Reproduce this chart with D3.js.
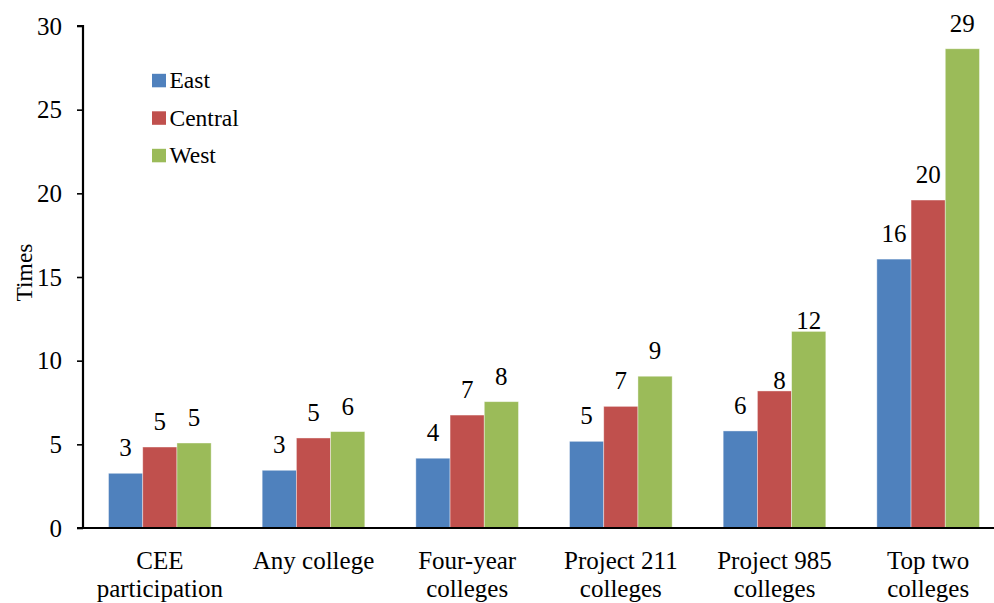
<!DOCTYPE html>
<html>
<head>
<meta charset="utf-8">
<script src="https://cdn.jsdelivr.net/npm/d3@7/dist/d3.min.js"></script>
<style>
  html, body { margin: 0; padding: 0; background: #fff; }
  svg { display: block; }
</style>
</head>
<body>
<svg id="chart" width="994" height="603"></svg>
<script>
// ---- data ----
const categories = [
  ["CEE", "participation"],
  ["Any college"],
  ["Four-year", "colleges"],
  ["Project 211", "colleges"],
  ["Project 985", "colleges"],
  ["Top two", "colleges"]
];
const seriesNames = ["East", "Central", "West"];
const eastValues    = [3.27, 3.45, 4.17, 5.18, 5.80, 16.07];
const centralValues = [4.84, 5.38, 6.75, 7.27, 8.19, 19.60];
const westValues    = [5.08, 5.76, 7.55, 9.07, 11.75, 28.64];
const yTicks = [0, 5, 10, 15, 20, 25, 30];
const colors = ["#4F81BD", "#C0504D", "#9BBB59"];

const seriesValues = [eastValues, centralValues, westValues];
const catKeys = categories.map(c => c.join(" "));
const FONT = "'Liberation Serif'";

// ---- layout ----
const svg = d3.select("#chart");
const mLeft = 83, mRight = 1005, mTop = 26, mBottom = 528;

const x0 = d3.scaleBand().domain(catKeys).range([mLeft, mRight])
  .paddingInner(0.332).paddingOuter(0.166);
const x1 = d3.scaleBand().domain(seriesNames).range([0, x0.bandwidth()]);
const y = d3.scaleLinear().domain([0, 30]).range([mBottom, mTop]);

// bars
const groups = svg.append("g").selectAll("g")
  .data(catKeys).join("g")
  .attr("transform", d => `translate(${x0(d)},0)`);

groups.selectAll("rect")
  .data((d, i) => seriesNames.map((s, j) => ({ s, j, v: seriesValues[j][i], ci: i })))
  .join("rect")
  .attr("x", d => x1(d.s))
  .attr("y", d => y(d.v))
  .attr("width", x1.bandwidth())
  .attr("height", d => y(0) - y(d.v))
  .attr("fill", d => colors[d.j])
  .attr("stroke", "rgba(255,255,255,0.5)")
  .attr("stroke-width", 0.8);

// value labels
groups.selectAll("text")
  .data((d, i) => seriesNames.map((s, j) => ({ s, j, v: seriesValues[j][i], ci: i })))
  .join("text")
  .attr("x", d => x1(d.s) + x1.bandwidth() / 2 + ((d.ci === 4 && d.j === 1) ? 5 : 0))
  .attr("y", d => y(d.v) - ((d.ci === 4 && d.j > 0) ? 2 : 17))
  .attr("text-anchor", "middle")
  .style("font-family", FONT)
  .style("font-size", "25px")
  .attr("fill", "#000")
  .text(d => Math.round(d.v));

// y axis
const yAxis = d3.axisLeft(y).tickValues(yTicks).tickSize(6).tickPadding(15);
const gy = svg.append("g").attr("transform", `translate(${mLeft},0)`).call(yAxis);
gy.select(".domain").attr("stroke", "#000").attr("stroke-width", 2.2)
  .attr("d", `M-6,${mTop}H0V${mBottom}`);
gy.selectAll(".tick line").attr("stroke", "#000").attr("stroke-width", 1.6);
gy.selectAll(".tick text").attr("fill", "#000")
  .style("font-family", FONT).style("font-size", "25px");

// x axis
const xAxis = d3.axisBottom(x0).tickSize(0).tickFormat("");
const gx = svg.append("g").attr("transform", `translate(0,${mBottom})`).call(xAxis);
gx.select(".domain").attr("stroke", "#000").attr("stroke-width", 2.2)
  .attr("d", `M${mLeft - 6},0H${mRight}`);

// category labels
categories.forEach((lines, i) => {
  const cx = x0(catKeys[i]) + x0.bandwidth() / 2;
  const t = svg.append("text")
    .attr("x", cx).attr("y", 568.5)
    .style("font-family", FONT).style("font-size", "25px")
    .attr("text-anchor", "middle").attr("fill", "#000");
  lines.forEach((ln, k) => {
    t.append("tspan").attr("x", cx).attr("dy", k === 0 ? 0 : 28.5).text(ln);
  });
});

// y title
svg.append("text")
  .attr("transform", "translate(32,272.5) rotate(-90)")
  .style("font-family", FONT).style("font-size", "23.5px")
  .attr("text-anchor", "middle").attr("fill", "#000")
  .text("Times");

// legend
const legend = svg.append("g");
seriesNames.forEach((s, i) => {
  const base = 88.3 + i * 37.5;
  legend.append("rect").attr("x", 152).attr("y", base - 14.5)
    .attr("width", 14).attr("height", 13.5).attr("fill", colors[i]);
  legend.append("text").attr("x", 169.5).attr("y", base)
    .style("font-family", FONT).style("font-size", "23.5px")
    .attr("fill", "#000").text(s);
});
</script>
</body>
</html>
